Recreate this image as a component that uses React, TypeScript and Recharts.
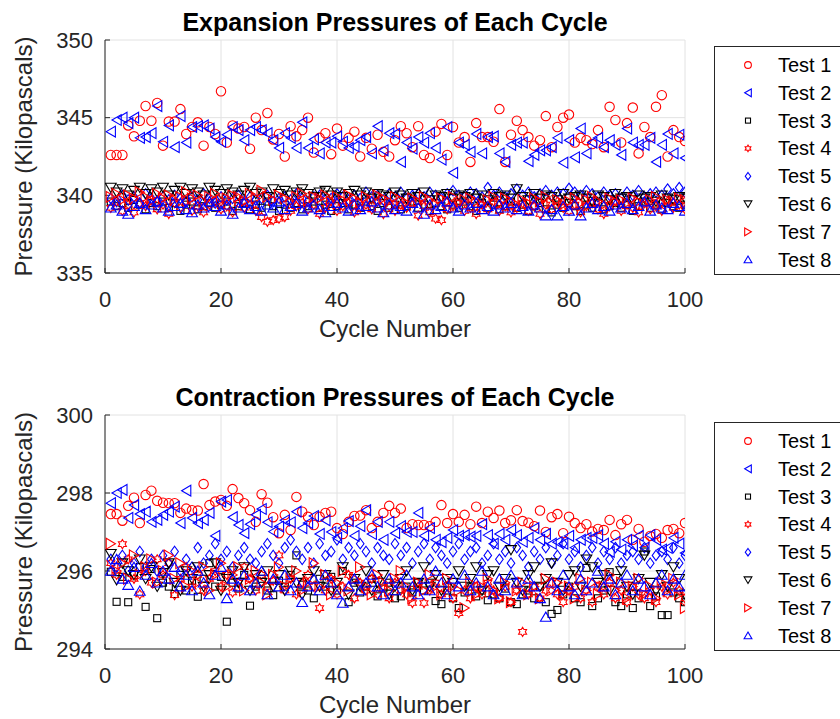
import { ScatterChart, Scatter, XAxis, YAxis, CartesianGrid, Label } from "recharts"

const FONT = '"Liberation Sans", Arial, Helvetica, sans-serif'
const AXIS = "#262626"
const RED = "#ff0000"
const BLUE = "#0000ff"
const BLACK = "#000000"

const cycles = Array.from({ length: 100 }, (_, i) => i + 1)
const xTicks = [0, 20, 40, 60, 80, 100]
const expTicks = [335, 340, 345, 350]
const conTicks = [294, 296, 298, 300]

const seriesNames = ["Test 1", "Test 2", "Test 3", "Test 4", "Test 5", "Test 6", "Test 7", "Test 8"]
const markerKinds = ["o", "<", "s", "h", "d", "v", ">", "^"]
const markerColors = [RED, BLUE, BLACK, RED, BLUE, BLACK, RED, BLUE]

// expansion pressures (kPa)
const exp1 = [
  342.6, 342.6, 342.6, 344.5, 343.8, 344.8, 345.75, 344.8, 345.95, 343.2,
  344.75, 344.75, 345.55, 343.95, 344.4, 344.7, 343.2, 344.4, 343.95, 346.7,
  343.4, 344.5, 344.3, 344.4, 343.0, 345.0, 344.2, 345.3, 343.6, 343.95,
  342.5, 344.45, 343.8, 344.2, 345.0, 342.75, 343.7, 344.0, 342.65, 344.3,
  343.2, 343.7, 344.1, 342.5, 343.7, 343.0, 343.9, 342.8, 342.5, 343.55,
  344.45, 344.0, 343.1, 344.45, 342.6, 342.4, 344.1, 344.6, 342.6, 344.4,
  343.4, 343.75, 342.15, 344.65, 343.75, 343.75, 343.45, 345.55, 342.15, 343.9,
  344.8, 344.2, 343.75, 343.2, 343.55, 345.1, 343.1, 344.4, 345.0, 345.2,
  343.4, 343.7, 343.55, 343.3, 344.2, 343.1, 345.7, 344.85, 343.4, 344.65,
  345.65, 342.7, 344.4, 343.75, 345.7, 346.45, 342.5, 344.2, 343.75, 343.5,
]
const exp2 = [
  344.1, 344.85, 345.0, 344.65, 345.0, 343.7, 343.75, 344.0, 345.75, 343.45,
  344.5, 343.1, 345.1, 343.4, 344.4, 344.45, 344.5, 344.3, 343.75, 343.45,
  343.9, 344.4, 344.2, 343.55, 344.2, 344.4, 344.2, 344.0, 343.55, 343.05,
  344.0, 343.7, 343.05, 344.7, 343.05, 343.6, 342.7, 343.4, 343.4, 343.8,
  343.45, 343.05, 343.15, 343.55, 343.75, 342.7, 344.45, 342.9, 344.0, 343.95,
  342.15, 343.4, 343.0, 343.75, 343.4, 344.0, 343.05, 342.3, 344.4, 341.45,
  343.4, 343.25, 342.8, 343.95, 342.7, 343.75, 343.8, 342.7, 342.15, 343.25,
  343.4, 343.4, 342.2, 342.6, 342.9, 342.9, 343.1, 343.7, 342.1, 343.55,
  342.45, 344.3, 342.7, 343.4, 343.7, 343.1, 343.55, 343.25, 342.6, 344.3,
  343.4, 343.25, 343.25, 343.7, 342.15, 343.25, 343.95, 342.7, 343.9, 342.4,
]
const exp3 = [
  339.6, 339.3, 339.5, 339.2, 339.7, 339.4, 339.1, 339.5, 339.3, 339.6,
  339.2, 339.5, 339.0, 339.4, 339.6, 339.1, 339.3, 339.5, 339.2, 339.4,
  339.6, 339.0, 339.3, 339.5, 339.1, 339.4, 339.2, 339.6, 339.3, 339.0,
  339.4, 339.2, 339.5, 339.1, 339.3, 339.6, 339.2, 339.4, 339.0, 339.3,
  339.5, 339.1, 339.4, 339.2, 339.6, 339.3, 339.0, 339.5, 339.2, 339.4,
  339.1, 339.3, 339.6, 339.2, 339.4, 339.0, 339.5, 339.3, 339.1, 339.4,
  339.2, 339.6, 339.3, 339.0, 339.5, 339.2, 339.4, 339.1, 339.3, 339.6,
  339.2, 339.4, 339.0, 339.3, 339.5, 339.1, 338.9, 339.4, 339.2, 339.5,
  339.3, 339.0, 339.4, 339.2, 339.6, 339.1, 339.3, 339.5, 339.2, 339.4,
  339.0, 339.3, 339.6, 339.2, 339.4, 339.1, 339.5, 339.3, 339.2, 339.4,
]
const exp4 = [
  339.2, 339.6, 339.0, 339.4, 338.9, 339.5, 339.3, 339.7, 339.1, 339.4,
  338.8, 339.5, 339.2, 339.6, 339.0, 339.3, 338.9, 339.4, 339.6, 339.1,
  339.3, 338.9, 339.5, 339.2, 339.4, 339.0, 338.6, 338.3, 338.4, 338.5,
  338.6, 339.0, 339.3, 339.5, 339.1, 339.4, 338.8, 339.2, 339.6, 339.0,
  339.3, 339.5, 338.9, 339.2, 339.4, 339.1, 339.6, 338.8, 339.3, 339.0,
  339.4, 339.2, 339.5, 338.7, 339.3, 338.9, 338.5, 338.4, 339.1, 339.3,
  339.5, 339.0, 339.2, 338.8, 339.4, 339.1, 339.6, 339.0, 339.3, 338.9,
  339.2, 339.5, 339.0, 339.3, 338.8, 339.4, 339.1, 339.6, 339.2, 339.0,
  339.4, 338.9, 339.3, 339.5, 339.1, 338.8, 339.3, 339.6, 339.0, 339.4,
  339.2, 338.9, 339.5, 339.1, 339.3, 339.0, 339.6, 339.2, 339.4, 339.1,
]
const exp5 = [
  339.8, 339.6, 340.0, 339.7, 339.9, 339.5, 340.1, 339.8, 339.6, 339.9,
  339.7, 340.0, 339.8, 339.6, 339.9, 339.7, 340.1, 339.8, 339.5, 339.9,
  339.7, 339.8, 340.0, 339.6, 339.9, 339.7, 339.8, 340.0, 339.6, 339.8,
  339.9, 339.7, 340.1, 339.8, 339.6, 339.9, 340.0, 339.7, 339.8, 340.1,
  339.9, 339.7, 340.0, 339.8, 340.2, 339.9, 340.0, 339.7, 340.1, 339.9,
  340.2, 339.8, 340.0, 340.1, 339.9, 340.2, 340.0, 339.8, 340.1, 340.3,
  340.0, 339.9, 340.2, 340.1, 339.9, 340.5, 340.0, 340.2, 339.9, 340.1,
  340.4, 340.0, 340.2, 339.9, 340.1, 340.3, 340.0, 340.2, 340.1, 340.45,
  340.2, 340.0, 340.3, 340.1, 339.9, 340.2, 340.0, 340.1, 339.8, 340.2,
  340.0, 340.3, 339.9, 340.1, 340.2, 340.0, 340.4, 340.1, 340.5, 340.2,
]
const exp6 = [
  340.5, 340.2, 340.4, 340.0, 340.3, 340.5, 340.1, 340.4, 340.2, 340.5,
  340.0, 340.3, 340.5, 340.1, 340.4, 340.2, 340.0, 340.5, 340.3, 340.1,
  340.4, 340.2, 340.0, 340.3, 340.5, 340.1, 340.2, 339.9, 340.4, 340.1,
  340.3, 340.0, 340.2, 340.4, 340.1, 339.9, 340.2, 340.3, 340.0, 340.2,
  339.9, 340.1, 340.3, 340.0, 340.2, 339.8, 340.1, 340.0, 339.9, 340.2,
  340.0, 339.8, 340.1, 339.9, 340.2, 339.7, 340.0, 339.9, 340.1, 339.8,
  340.0, 339.9, 340.1, 339.8, 340.0, 339.7, 340.1, 339.9, 340.0, 339.8,
  340.4, 339.9, 339.7, 340.1, 339.8, 340.0, 339.9, 339.7, 340.1, 339.8,
  339.9, 340.0, 339.8, 339.6, 340.0, 339.9, 339.7, 340.1, 339.8, 339.9,
  339.7, 340.0, 339.8, 339.9, 339.6, 340.0, 339.8, 339.7, 339.9, 339.8,
]
const exp7 = [
  339.9, 340.1, 339.7, 340.0, 339.8, 340.2, 339.9, 339.6, 340.1, 339.8,
  340.0, 339.7, 339.9, 340.2, 339.8, 340.0, 339.6, 339.9, 340.1, 339.7,
  339.8, 340.0, 339.9, 339.6, 340.1, 339.8, 340.3, 339.9, 339.7, 340.0,
  339.8, 339.6, 339.9, 340.1, 339.7, 339.9, 339.8, 340.0, 339.6, 339.9,
  339.7, 340.0, 339.8, 339.5, 339.9, 339.7, 340.0, 339.8, 339.6, 339.9,
  339.7, 339.5, 339.8, 339.6, 339.9, 339.7, 339.4, 339.8, 339.6, 339.9,
  339.5, 339.7, 339.8, 339.6, 339.4, 339.7, 339.9, 339.5, 339.8, 339.6,
  339.4, 339.7, 339.5, 339.8, 339.6, 339.9, 339.5, 339.7, 339.4, 339.6,
  339.8, 339.5, 339.7, 339.9, 339.6, 339.4, 339.8, 339.6, 339.7, 339.5,
  339.8, 339.6, 339.4, 339.7, 339.9, 339.5, 339.7, 339.6, 339.8, 339.7,
]
const exp8 = [
  339.2, 339.4, 339.0, 338.8, 339.3, 339.5, 339.1, 339.4, 339.6, 339.2,
  339.0, 339.3, 339.5, 339.1, 338.9, 339.4, 339.2, 339.6, 339.3, 339.0,
  339.4, 338.8, 339.2, 339.5, 339.1, 339.3, 339.0, 339.4, 339.2, 339.6,
  339.1, 339.3, 339.5, 339.0, 339.2, 339.4, 339.1, 338.9, 339.3, 339.5,
  339.2, 339.0, 339.4, 339.1, 339.3, 339.6, 339.2, 338.9, 339.4, 339.1,
  339.3, 339.0, 339.5, 339.2, 338.8, 339.4, 339.1, 339.3, 339.6, 339.2,
  339.0, 339.4, 339.2, 339.5, 339.1, 339.3, 339.0, 339.4, 339.2, 339.5,
  339.1, 339.3, 339.0, 339.4, 339.2, 338.7, 339.1, 338.7, 339.3, 339.0,
  339.4, 338.7, 339.2, 339.5, 339.1, 339.3, 339.0, 339.4, 339.2, 339.5,
  339.1, 339.3, 339.6, 339.0, 339.4, 339.2, 339.1, 339.5, 339.3, 339.0,
]

// contraction pressures (kPa)
const con1 = [
  297.46, 297.46, 297.29, 297.67, 297.88, 297.23, 297.95, 298.06, 297.8, 297.75,
  297.74, 297.74, 297.49, 297.6, 297.56, 297.55, 298.23, 297.69, 297.78, 297.82,
  297.67, 298.1, 297.87, 297.74, 297.56, 297.26, 297.97, 297.75, 297.38, 296.97,
  297.44, 297.05, 297.9, 297.52, 297.39, 297.18, 297.39, 297.49, 297.52, 297.1,
  296.95, 297.26, 297.41, 297.42, 297.56, 297.1, 297.26, 297.49, 297.67, 297.49,
  297.6, 297.1, 297.2, 297.18, 297.18, 297.15, 297.26, 297.69, 297.23, 297.46,
  297.26, 297.44, 297.2, 297.65, 297.23, 297.52, 297.36, 297.55, 297.23, 297.3,
  297.56, 297.28, 297.24, 297.15, 297.55, 297.0, 297.38, 297.46, 296.97, 297.39,
  297.23, 297.1, 297.2, 297.01, 297.08, 297.05, 297.31, 296.92, 297.2, 297.31,
  296.8, 297.08, 296.75, 296.9, 296.95, 296.85, 297.05, 297.08, 296.97, 297.23,
]
const con2 = [
  297.74, 298.0, 298.08, 297.36, 297.69, 297.46, 297.52, 297.26, 297.31, 297.44,
  297.52, 297.65, 297.23, 298.06, 297.36, 297.23, 297.31, 297.49, 296.9, 297.78,
  297.82, 297.38, 297.18, 296.97, 297.2, 297.44, 297.59, 297.25, 297.01, 297.14,
  297.3, 297.25, 297.52, 297.1, 297.23, 297.41, 296.95, 297.3, 297.0, 296.85,
  297.1, 297.28, 296.9, 297.15, 297.56, 296.95, 297.26, 296.8, 297.26, 296.97,
  297.15, 297.0, 297.0, 297.49, 296.9, 297.1, 296.8, 296.74, 296.85, 297.05,
  296.9, 296.92, 296.88, 296.9, 297.2, 296.92, 296.7, 296.95, 296.8, 297.05,
  296.92, 296.75, 296.85, 297.1, 296.8, 296.95, 296.7, 296.74, 296.7, 296.9,
  296.6, 296.8, 296.85, 296.85, 296.92, 296.7, 296.49, 296.75, 296.55, 296.8,
  296.65, 296.9, 296.6, 296.92, 296.8, 296.55, 296.59, 296.85, 296.7, 296.46,
]
const con3 = [
  295.98, 295.21, 295.85, 295.2, 295.9, 296.1, 295.08, 296.05, 294.79, 295.7,
  295.6, 295.41, 295.9, 295.5, 295.75, 295.34, 295.8, 296.2, 295.6, 295.85,
  294.7, 295.7, 295.55, 295.9, 295.11, 295.6, 295.8, 295.5, 295.38, 295.75,
  295.6, 295.9, 296.4, 295.65, 295.5, 295.3, 295.8, 295.6, 295.85, 295.5,
  296.0, 295.2, 295.7, 295.45, 295.6, 295.8, 295.35, 295.55, 295.7, 295.3,
  295.35, 295.6, 295.45, 295.7, 295.5, 295.7, 295.23, 295.15, 295.5, 295.3,
  295.05, 295.45, 295.6, 295.35, 295.5, 295.25, 295.4, 295.3, 295.55, 295.2,
  295.15, 295.4, 295.5, 295.3, 295.6, 295.2, 294.9, 295.0, 295.4, 295.6,
  295.3, 295.2, 296.08, 295.1, 295.3, 295.5, 295.97, 295.2, 295.1, 295.4,
  295.05, 295.3, 296.5, 295.1, 295.35, 294.87, 294.87, 295.45, 295.3, 295.2,
]
const con4 = [
  296.2, 295.9, 296.69, 296.3, 295.8, 295.4, 296.0, 295.7, 296.3, 295.9,
  296.2, 295.38, 295.8, 296.1, 295.6, 295.9, 295.5, 295.8, 296.0, 295.6,
  295.9, 295.45, 295.7, 296.1, 295.8, 295.5, 295.9, 295.6, 295.75, 296.4,
  295.5, 295.8, 295.4, 295.7, 295.9, 295.6, 295.05, 295.5, 295.8, 295.4,
  295.6, 295.9, 295.3, 295.7, 295.5, 295.8, 295.4, 295.6, 295.3, 295.7,
  295.5, 295.4, 295.18, 295.6, 295.18, 295.5, 295.7, 295.4, 295.6, 295.3,
  294.92, 295.5, 295.3, 295.6, 295.4, 295.7, 295.5, 295.3, 295.6, 295.2,
  295.5, 294.44, 295.4, 295.6, 295.3, 295.5, 295.7, 295.4, 295.2, 295.5,
  295.6, 295.3, 295.5, 295.2, 295.6, 295.4, 295.7, 295.3, 295.5, 295.2,
  295.6, 295.4, 295.3, 295.5, 295.2, 295.6, 295.4, 295.7, 295.5, 295.3,
]
const con5 = [
  296.3, 296.1, 296.4, 296.0, 296.2, 296.5, 296.1, 296.3, 296.0, 296.4,
  296.2, 296.5, 296.0, 296.3, 296.1, 296.6, 296.2, 296.4, 296.7, 296.3,
  296.5, 296.1, 296.4, 296.6, 296.3, 296.2, 296.5, 296.7, 296.4, 296.2,
  296.6, 296.8, 296.5, 296.3, 296.6, 296.2, 296.7, 296.4, 296.5, 296.8,
  296.3, 296.6, 296.4, 296.7, 296.5, 296.2, 296.6, 296.4, 296.3, 296.7,
  296.4, 296.6, 296.2, 296.5, 296.7, 296.3, 296.6, 296.4, 296.2, 296.5,
  296.7, 296.3, 296.5, 296.6, 296.2, 296.4, 296.7, 296.3, 296.5, 296.2,
  296.6, 296.4, 296.1, 296.5, 296.3, 296.6, 296.2, 296.4, 296.7, 296.3,
  296.5, 296.1, 296.4, 296.6, 296.2, 296.5, 296.3, 296.6, 296.2, 296.4,
  296.5, 296.3, 296.6, 296.2, 296.4, 296.5, 296.3, 296.6, 296.2, 296.4,
]
const con6 = [
  296.44, 295.77, 296.2, 296.0, 295.9, 296.3, 295.8, 296.1, 295.6, 295.95,
  296.2, 295.7, 295.5, 296.0, 295.8, 296.1, 295.6, 295.9, 296.2, 295.5,
  295.8, 296.0, 295.7, 296.1, 295.5, 295.9, 295.7, 296.0, 295.6, 295.9,
  295.5, 296.0, 295.7, 295.4, 295.8, 296.0, 295.6, 295.9, 295.5, 295.7,
  296.1, 295.4, 295.8, 295.6, 296.0, 295.5, 295.7, 295.9, 295.4, 295.6,
  295.8, 296.0, 295.5, 295.7, 296.1, 295.6, 295.9, 295.5, 295.8, 295.7,
  296.0, 295.6, 295.8, 296.1, 295.5, 295.9, 296.0, 295.6, 295.8, 296.54,
  295.7, 295.5, 295.9, 296.1, 295.6, 295.8, 296.2, 295.7, 295.5, 295.9,
  296.0, 295.6, 296.3, 296.1, 295.7, 295.9, 295.5, 295.8, 296.0, 295.6,
  295.4, 295.8, 296.4, 295.7, 295.5, 295.9, 295.6, 296.1, 295.8, 295.4,
]
const con7 = [
  296.7, 296.0, 296.2, 295.8, 296.4, 295.9, 296.1, 296.3, 295.7, 296.0,
  296.4, 295.8, 296.2, 295.6, 296.0, 295.7, 296.1, 295.5, 295.9, 296.2,
  295.6, 295.9, 296.1, 295.5, 295.8, 296.0, 295.7, 295.4, 295.9, 296.1,
  295.6, 295.8, 296.0, 295.5, 295.7, 296.2, 295.6, 295.9, 295.4, 295.7,
  296.0, 295.5, 295.8, 296.1, 295.6, 295.4, 295.9, 295.7, 295.5, 295.8,
  296.0, 295.6, 295.3, 295.7, 295.5, 295.9, 295.6, 295.4, 295.8, 295.6,
  295.5, 295.05, 295.7, 295.4, 295.6, 295.8, 295.5, 295.3, 295.7, 295.2,
  295.5, 295.7, 295.4, 295.6, 295.3, 295.8, 295.5, 295.7, 295.4, 295.6,
  295.3, 295.8, 295.5, 295.7, 295.4, 295.6, 295.9, 295.5, 295.7, 295.3,
  295.6, 295.8, 295.4, 295.6, 295.3, 295.7, 295.5, 295.8, 295.4, 295.05,
]
const con8 = [
  296.0, 296.3, 295.8, 295.64, 296.1, 295.49, 295.9, 296.2, 295.7, 296.0,
  295.8, 296.1, 295.6, 295.9, 295.5, 296.0, 295.7, 295.4, 295.9, 296.1,
  295.3, 295.8, 295.6, 295.9, 295.5, 295.7, 296.0, 295.4, 295.8, 295.6,
  295.9, 295.5, 295.7, 295.2, 295.6, 295.8, 295.5, 295.9, 295.7, 295.4,
  295.18, 295.6, 295.8, 295.5, 295.7, 295.9, 295.6, 295.4, 295.8, 295.5,
  295.7, 295.9, 295.6, 295.4, 295.8, 295.5, 296.0, 295.7, 295.4, 295.8,
  295.6, 295.9, 295.5, 295.7, 296.0, 295.6, 295.4, 295.8, 295.5, 295.9,
  295.7, 295.4, 295.8, 295.6, 295.3, 294.82, 295.7, 295.5, 295.9, 295.6,
  295.4, 295.8, 295.5, 295.7, 296.0, 295.6, 295.8, 295.4, 295.7, 295.9,
  295.5, 295.8, 295.6, 295.4, 295.7, 295.9, 295.5, 295.8, 295.6, 295.9,
]

const expansionSeries = [exp1, exp2, exp3, exp4, exp5, exp6, exp7, exp8]
const contractionSeries = [con1, con2, con3, con4, con5, con6, con7, con8]

function Marker({ cx, cy, kind, color, k = 1 }: { cx: number; cy: number; kind: string; color: string; k?: number }) {
  if (cx == null || cy == null) return null
  const st = { fill: "none", stroke: color, strokeWidth: 1.1 }
  const poly = (pts: number[][]) => <polygon points={pts.map((p) => `${cx + p[0] * k},${cy + p[1] * k}`).join(" ")} {...st} />
  switch (kind) {
    case "o":
      return <circle cx={cx} cy={cy} r={4.7 * k} {...st} />
    case "s":
      return <rect x={cx - 3.5 * k} y={cy - 3.5 * k} width={7 * k} height={7 * k} {...st} />
    case "d":
      return poly([[0, -5.2], [3.8, 0], [0, 5.2], [-3.8, 0]])
    case "<":
      return poly([[-4.6, 0], [4.6, -5.4], [4.6, 5.4]])
    case ">":
      return poly([[4.6, 0], [-4.6, -5.4], [-4.6, 5.4]])
    case "^":
      return poly([[0, -4.9], [5.4, 4.3], [-5.4, 4.3]])
    case "v":
      return poly([[0, 4.9], [5.4, -4.3], [-5.4, -4.3]])
    case "h": {
      const pts: number[][] = []
      for (let i = 0; i < 12; i++) {
        const a = -Math.PI / 2 + (i * Math.PI) / 6
        const r = i % 2 === 0 ? 4.6 : 2.7
        pts.push([r * Math.cos(a), r * Math.sin(a)])
      }
      return poly(pts)
    }
    default:
      return null
  }
}

function LegendBox({ top }: { top: number }) {
  return (
    <svg width={140} height={229} style={{ position: "absolute", left: 714, top, background: "#fff" }}>
      <rect x={0.5} y={0.5} width={139} height={228} fill="#fff" stroke={AXIS} strokeWidth={1} />
      {seriesNames.map((name, i) => {
        const y = 19 + i * 27.8
        return (
          <g key={name}>
            <Marker cx={34} cy={y} kind={markerKinds[i]} color={markerColors[i]} k={0.72} />
            <text x={64} y={y + 7} fontSize={20} fill="#000" fontFamily={FONT}>
              {name}
            </text>
          </g>
        )
      })}
    </svg>
  )
}

function Panel({
  title,
  series,
  domain,
  ticks,
  top,
  height,
  bottom,
  legendTop,
}: {
  title: string
  series: number[][]
  domain: [number, number]
  ticks: number[]
  top: number
  height: number
  bottom: number
  legendTop: number
}) {
  const tickStyle = { fill: AXIS, fontSize: 22, fontFamily: FONT }
  return (
    <div style={{ position: "absolute", left: 0, top, width: 840, height }}>
      <ScatterChart width={840} height={height} margin={{ top: 40, right: 155, bottom, left: 10 }} style={{ fontFamily: FONT }}>
        <CartesianGrid stroke="#e2e2e2" />
        <XAxis
          type="number"
          dataKey="x"
          domain={[0, 100]}
          ticks={xTicks}
          interval={0}
          height={64}
          tickSize={-5}
          tickMargin={23}
          stroke={AXIS}
          tick={tickStyle}
          allowDataOverflow
        >
          <Label value="Cycle Number" position="insideBottom" offset={0} style={{ fontSize: 24, fill: AXIS, fontFamily: FONT }} />
        </XAxis>
        <XAxis xAxisId="top" orientation="top" type="number" domain={[0, 100]} ticks={xTicks} interval={0} height={0} tickSize={-5} tick={false} stroke={AXIS} />
        <YAxis
          type="number"
          dataKey="y"
          domain={domain}
          ticks={ticks}
          interval={0}
          width={95}
          tickSize={-5}
          tickMargin={17}
          stroke={AXIS}
          tick={tickStyle}
          allowDataOverflow
        >
          <Label
            value="Pressure (Kilopascals)"
            angle={-90}
            position="insideLeft"
            offset={13}
            style={{ textAnchor: "middle", fontSize: 24, fill: AXIS, fontFamily: FONT }}
          />
        </YAxis>
        <YAxis yAxisId="right" orientation="right" type="number" domain={domain} ticks={ticks} interval={0} width={0} tickSize={-5} tick={false} stroke={AXIS} />
        {series.map((vals, si) => (
          <Scatter
            key={seriesNames[si]}
            name={seriesNames[si]}
            data={cycles.map((c, i) => ({ x: c, y: vals[i] }))}
            isAnimationActive={false}
            shape={(p: any) => <Marker cx={p.cx} cy={p.cy} kind={markerKinds[si]} color={markerColors[si]} />}
          />
        ))}
      </ScatterChart>
      <div
        style={{
          position: "absolute",
          left: 105,
          width: 580,
          top: 7,
          textAlign: "center",
          fontFamily: FONT,
          fontWeight: "bold",
          fontSize: 25,
          lineHeight: "30px",
          color: "#000",
        }}
      >
        {title}
      </div>
      <LegendBox top={legendTop} />
    </div>
  )
}

export default function App() {
  return (
    <div style={{ position: "absolute", left: 0, top: 0, width: 840, height: 719, overflow: "hidden", background: "#fff" }}>
      <Panel
        title="Expansion Pressures of Each Cycle"
        series={expansionSeries}
        domain={[335, 350]}
        ticks={expTicks}
        top={0}
        height={360}
        bottom={23}
        legendTop={46}
      />
      <Panel
        title="Contraction Pressures of Each Cycle"
        series={contractionSeries}
        domain={[294, 300]}
        ticks={conTicks}
        top={375}
        height={344}
        bottom={6}
        legendTop={47}
      />
    </div>
  )
}
